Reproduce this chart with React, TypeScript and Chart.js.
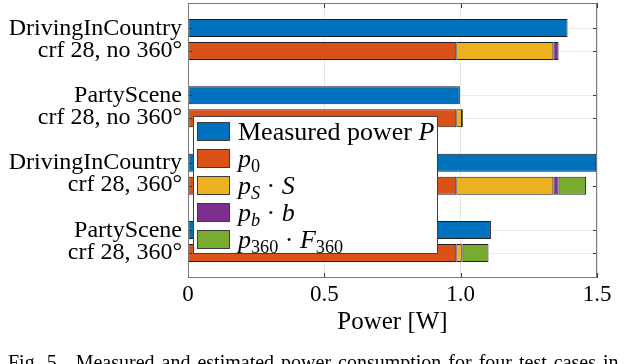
import React, { useEffect, useRef } from 'react';
import { Chart, registerables } from 'chart.js';

Chart.register(...registerables);

// ---- data ----
const CATEGORY_LINES: string[][] = [
  ['DrivingInCountry', 'crf 28, no 360°'],
  ['PartyScene', 'crf 28, no 360°'],
  ['DrivingInCountry', 'crf 28, 360°'],
  ['PartyScene', 'crf 28, 360°'],
];
const MEASURED = [1.392, 0.997, 1.497, 1.111];
const P0 = [0.984, 0.984, 0.984, 0.984];
const PS_S = [0.356, 0.021, 0.356, 0.02];
const PB_B = [0.019, 0.003, 0.019, 0.003];
const P360_F: (number | null)[] = [null, null, 0.101, 0.095];
const X_TICKS = [0, 0.5, 1, 1.5];

const COLORS = {
  blue: '#0072BD',
  orange: '#D95319',
  yellow: '#EDB120',
  purple: '#7E2F8E',
  green: '#77AC30',
};

const FONT = '"Liberation Serif", "Times New Roman", serif';

const toPoints = (arr: (number | null)[]) => arr.map((v, i) => ({ x: v, y: i + 1 }));

const framePlugin = {
  id: 'matlabFrame',
  beforeDatasetsDraw(chart: any) {
    const { ctx, chartArea: a } = chart;
    ctx.save();
    ctx.strokeStyle = '#ebebeb';
    ctx.lineWidth = 1;
    [0, 1].forEach((di) => {
      chart.getDatasetMeta(di).data.forEach((el: any) => {
        const y = Math.round(el.y) + 0.5;
        ctx.beginPath();
        ctx.moveTo(a.left, y);
        ctx.lineTo(a.right, y);
        ctx.stroke();
      });
    });
    ctx.restore();
  },
  afterDatasetsDraw(chart: any) {
    const { ctx, chartArea: a, scales } = chart;
    ctx.save();
    ctx.strokeStyle = '#3a3a3a';
    ctx.lineWidth = 1;
    [0, 1].forEach((di) => {
      chart.getDatasetMeta(di).data.forEach((el: any) => {
        const y = Math.round(el.y) + 0.5;
        ctx.beginPath();
        ctx.moveTo(a.left, y);
        ctx.lineTo(a.left + 4, y);
        ctx.moveTo(a.right - 4, y);
        ctx.lineTo(a.right, y);
        ctx.stroke();
      });
    });
    X_TICKS.forEach((v) => {
      const x = Math.round(scales.x.getPixelForValue(v)) + 0.5;
      ctx.beginPath();
      ctx.moveTo(x, a.bottom);
      ctx.lineTo(x, a.bottom - 5);
      ctx.moveTo(x, a.top);
      ctx.lineTo(x, a.top + 5);
      ctx.stroke();
    });
    ctx.strokeStyle = '#7a7a7a';
    ctx.strokeRect(a.left + 0.5, a.top + 0.5, a.right - a.left - 1, a.bottom - a.top - 1);
    ctx.restore();
  },
};

const barCommon = {
  borderColor: '#1e1e1e',
  borderWidth: 1,
  borderSkipped: false as const,
  categoryPercentage: 0.6835,
  barPercentage: 0.7826,
};

const swatch = (color: string) => (
  <span
    style={{
      display: 'inline-block',
      width: 31,
      height: 17,
      background: color,
      border: '1px solid #3c3c3c',
      marginLeft: 3,
      marginRight: 8,
      flex: '0 0 auto',
    }}
  />
);

const subStyle: React.CSSProperties = { fontSize: '0.7em', verticalAlign: '-0.28em', lineHeight: 0 };

export default function App() {
  const ref = useRef<HTMLCanvasElement>(null);

  useEffect(() => {
    const chart = new Chart(ref.current as HTMLCanvasElement, {
      type: 'bar',
      data: {
        datasets: [
          { label: 'Measured power P', data: toPoints(MEASURED), backgroundColor: COLORS.blue, stack: 'm', ...barCommon } as any,
          { label: 'p0', data: toPoints(P0), backgroundColor: COLORS.orange, stack: 'e', ...barCommon } as any,
          { label: 'pS·S', data: toPoints(PS_S), backgroundColor: COLORS.yellow, stack: 'e', ...barCommon } as any,
          { label: 'pb·b', data: toPoints(PB_B), backgroundColor: COLORS.purple, stack: 'e', ...barCommon } as any,
          { label: 'p360·F360', data: toPoints(P360_F), backgroundColor: COLORS.green, stack: 'e', ...barCommon } as any,
        ],
      },
      options: {
        indexAxis: 'y',
        animation: false,
        responsive: false,
        layout: { padding: { top: 3, right: 43, bottom: 0, left: 0 } },
        plugins: { legend: { display: false }, tooltip: { enabled: false } },
        scales: {
          x: {
            type: 'linear',
            stacked: true,
            min: 0,
            max: 1.5,
            afterBuildTicks: (s: any) => {
              s.ticks = X_TICKS.map((v) => ({ value: v }));
            },
            afterFit: (s: any) => {
              s.height = 86;
              s.paddingLeft = 0;
              s.paddingRight = 0;
            },
            grid: { color: '#e6e6e6', drawTicks: false },
            border: { display: false },
            ticks: {
              padding: 3,
              color: '#000',
              font: { family: FONT, size: 23, lineHeight: 1.2 },
              maxRotation: 0,
            },
            title: {
              display: true,
              text: 'Power [W]',
              color: '#000',
              font: { family: FONT, size: 25, lineHeight: 1.2 },
              padding: { top: 0, bottom: 26.5 },
            },
          } as any,
          y: {
            type: 'linear',
            reverse: true,
            offset: false,
            min: 0.458,
            max: 4.542,
            grace: 0,
            afterDataLimits: (s: any) => {
              s.min = 0.458;
              s.max = 4.542;
            },
            afterBuildTicks: (s: any) => {
              s.ticks = CATEGORY_LINES.map((_, i) => ({ value: i + 1 }));
            },
            afterFit: (s: any) => {
              s.width = 188;
              s.paddingTop = 0;
              s.paddingBottom = 0;
            },
            grid: { display: false, drawTicks: false, offset: false },
            border: { display: false },
            ticks: {
              autoSkip: false,
              padding: 6,
              color: '#000',
              font: { family: FONT, size: 24, lineHeight: 22 / 24 },
              callback: (v: any) => CATEGORY_LINES[Number(v) - 1] ?? '',
            },
          } as any,
        },
      },
      plugins: [framePlugin],
    });
    return () => chart.destroy();
  }, []);

  const rowStyle: React.CSSProperties = { display: 'flex', alignItems: 'center', height: 27, whiteSpace: 'nowrap' };

  return (
    <div
      style={{
        position: 'absolute',
        left: 0,
        top: 0,
        width: 640,
        height: 364,
        overflow: 'hidden',
        background: '#fff',
        fontFamily: FONT,
        color: '#000',
      }}
    >
      <canvas ref={ref} width={640} height={364} style={{ position: 'absolute', left: 0, top: 0, width: 640, height: 364 }} />
      <div
        style={{
          position: 'absolute',
          left: 193,
          top: 116,
          width: 243,
          height: 135,
          background: '#fff',
          border: '1px solid #404040',
          fontSize: 26,
          lineHeight: '27px',
          paddingTop: 1,
          boxSizing: 'content-box',
        }}
      >
        <div style={rowStyle}>
          {swatch(COLORS.blue)}
          <span>
            Measured power <i>P</i>
          </span>
        </div>
        <div style={rowStyle}>
          {swatch(COLORS.orange)}
          <span>
            <i>p</i>
            <sub style={subStyle}>0</sub>
          </span>
        </div>
        <div style={rowStyle}>
          {swatch(COLORS.yellow)}
          <span>
            <i>p</i>
            <sub style={subStyle}>
              <i>S</i>
            </sub>{' '}
            · <i>S</i>
          </span>
        </div>
        <div style={rowStyle}>
          {swatch(COLORS.purple)}
          <span>
            <i>p</i>
            <sub style={subStyle}>
              <i>b</i>
            </sub>{' '}
            · <i>b</i>
          </span>
        </div>
        <div style={rowStyle}>
          {swatch(COLORS.green)}
          <span>
            <i>p</i>
            <sub style={subStyle}>360</sub> · <i>F</i>
            <sub style={subStyle}>360</sub>
          </span>
        </div>
      </div>
      <div
        style={{
          position: 'absolute',
          left: 8,
          top: 352,
          fontSize: 20,
          lineHeight: '20px',
          whiteSpace: 'nowrap',
          wordSpacing: 2,
        }}
      >
        Fig. 5.{'\u00a0\u00a0'}Measured and estimated power consumption for four test cases in
      </div>
    </div>
  );
}
